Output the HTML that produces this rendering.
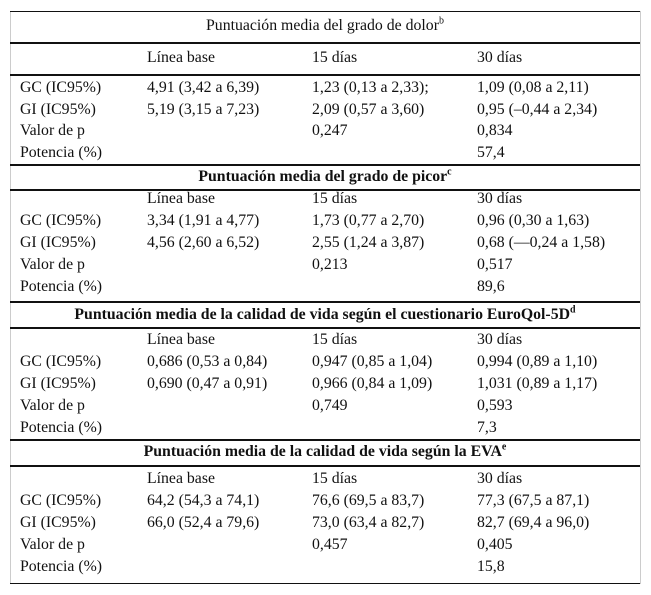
<!DOCTYPE html>
<html><head><meta charset="utf-8"><style>
body{margin:0;width:651px;height:595px;background:#fff;position:relative;font-family:"Liberation Serif",serif;font-size:15.8px;color:#111;overflow:hidden}
.t{position:absolute;white-space:nowrap;line-height:18px;transform:translateY(-50%)}
.h{position:absolute;left:10px;width:630px;background:#111}
.c{position:absolute;left:10px;width:630px;text-align:center;white-space:nowrap;line-height:18px;transform:translateY(-50%)}
b{font-weight:bold}
sup{font-size:10px;line-height:0}
.v{position:absolute;top:11px;height:573px;width:1px;background:#ccc}
</style></head><body>
<div class="v" style="left:10px"></div>
<div class="v" style="left:640px"></div>
<div class="h" style="top:11px;height:1px"></div>
<div class="h" style="top:42px;height:2px"></div>
<div class="h" style="top:74px;height:2px"></div>
<div class="h" style="top:164px;height:2px"></div>
<div class="h" style="top:189px;height:2px"></div>
<div class="h" style="top:301px;height:2px"></div>
<div class="h" style="top:327px;height:2px"></div>
<div class="h" style="top:439px;height:2px"></div>
<div class="h" style="top:465px;height:2px"></div>
<div class="h" style="top:583px;height:1px"></div>
<div id="tbl"></div>
<script>
const titles=["Puntuación media del grado de dolor<sup>b</sup>","<b>Puntuación media del grado de picor<sup>c</sup></b>","<b>Puntuación media de la calidad de vida según el cuestionario EuroQol-5D<sup>d</sup></b>","<b>Puntuación media de la calidad de vida según la EVA<sup>e</sup></b>"];
const titleY=[26,177,315,452];
const rowStart=[58,199,340,479];
const rows=[
[["","Línea base","15 días","30 días"],["GC (IC95%)","4,91 (3,42 a 6,39)","1,23 (0,13 a 2,33);","1,09 (0,08 a 2,11)"],["GI (IC95%)","5,19 (3,15 a 7,23)","2,09 (0,57 a 3,60)","0,95 (–0,44 a 2,34)"],["Valor de p","","0,247","0,834"],["Potencia (%)","","","57,4"]],
[["","Línea base","15 días","30 días"],["GC (IC95%)","3,34 (1,91 a 4,77)","1,73 (0,77 a 2,70)","0,96 (0,30 a 1,63)"],["GI (IC95%)","4,56 (2,60 a 6,52)","2,55 (1,24 a 3,87)","0,68 (—0,24 a 1,58)"],["Valor de p","","0,213","0,517"],["Potencia (%)","","","89,6"]],
[["","Línea base","15 días","30 días"],["GC (IC95%)","0,686 (0,53 a 0,84)","0,947 (0,85 a 1,04)","0,994 (0,89 a 1,10)"],["GI (IC95%)","0,690 (0,47 a 0,91)","0,966 (0,84 a 1,09)","1,031 (0,89 a 1,17)"],["Valor de p","","0,749","0,593"],["Potencia (%)","","","7,3"]],
[["","Línea base","15 días","30 días"],["GC (IC95%)","64,2 (54,3 a 74,1)","76,6 (69,5 a 83,7)","77,3 (67,5 a 87,1)"],["GI (IC95%)","66,0 (52,4 a 79,6)","73,0 (63,4 a 82,7)","82,7 (69,4 a 96,0)"],["Valor de p","","0,457","0,405"],["Potencia (%)","","","15,8"]]];
const colX=[20,147,312,477];
const tbl=document.getElementById('tbl');
titles.forEach((tt,s)=>{
 const d=document.createElement('div');d.className='c';d.style.top=titleY[s]+'px';d.innerHTML=tt;
 
 
 tbl.appendChild(d);
 rows[s].forEach((r,i)=>{
  let y=rowStart[s]+i*22;
  if(s===0&&i>0)y=88+(i-1)*21.7;
  r.forEach((txt,j)=>{ if(!txt)return;
   const e=document.createElement('div');e.className='t';e.style.left=colX[j]+'px';e.style.top=y+'px';e.textContent=txt;
   
   
   tbl.appendChild(e);});
 });
});
</script>
</body></html>
